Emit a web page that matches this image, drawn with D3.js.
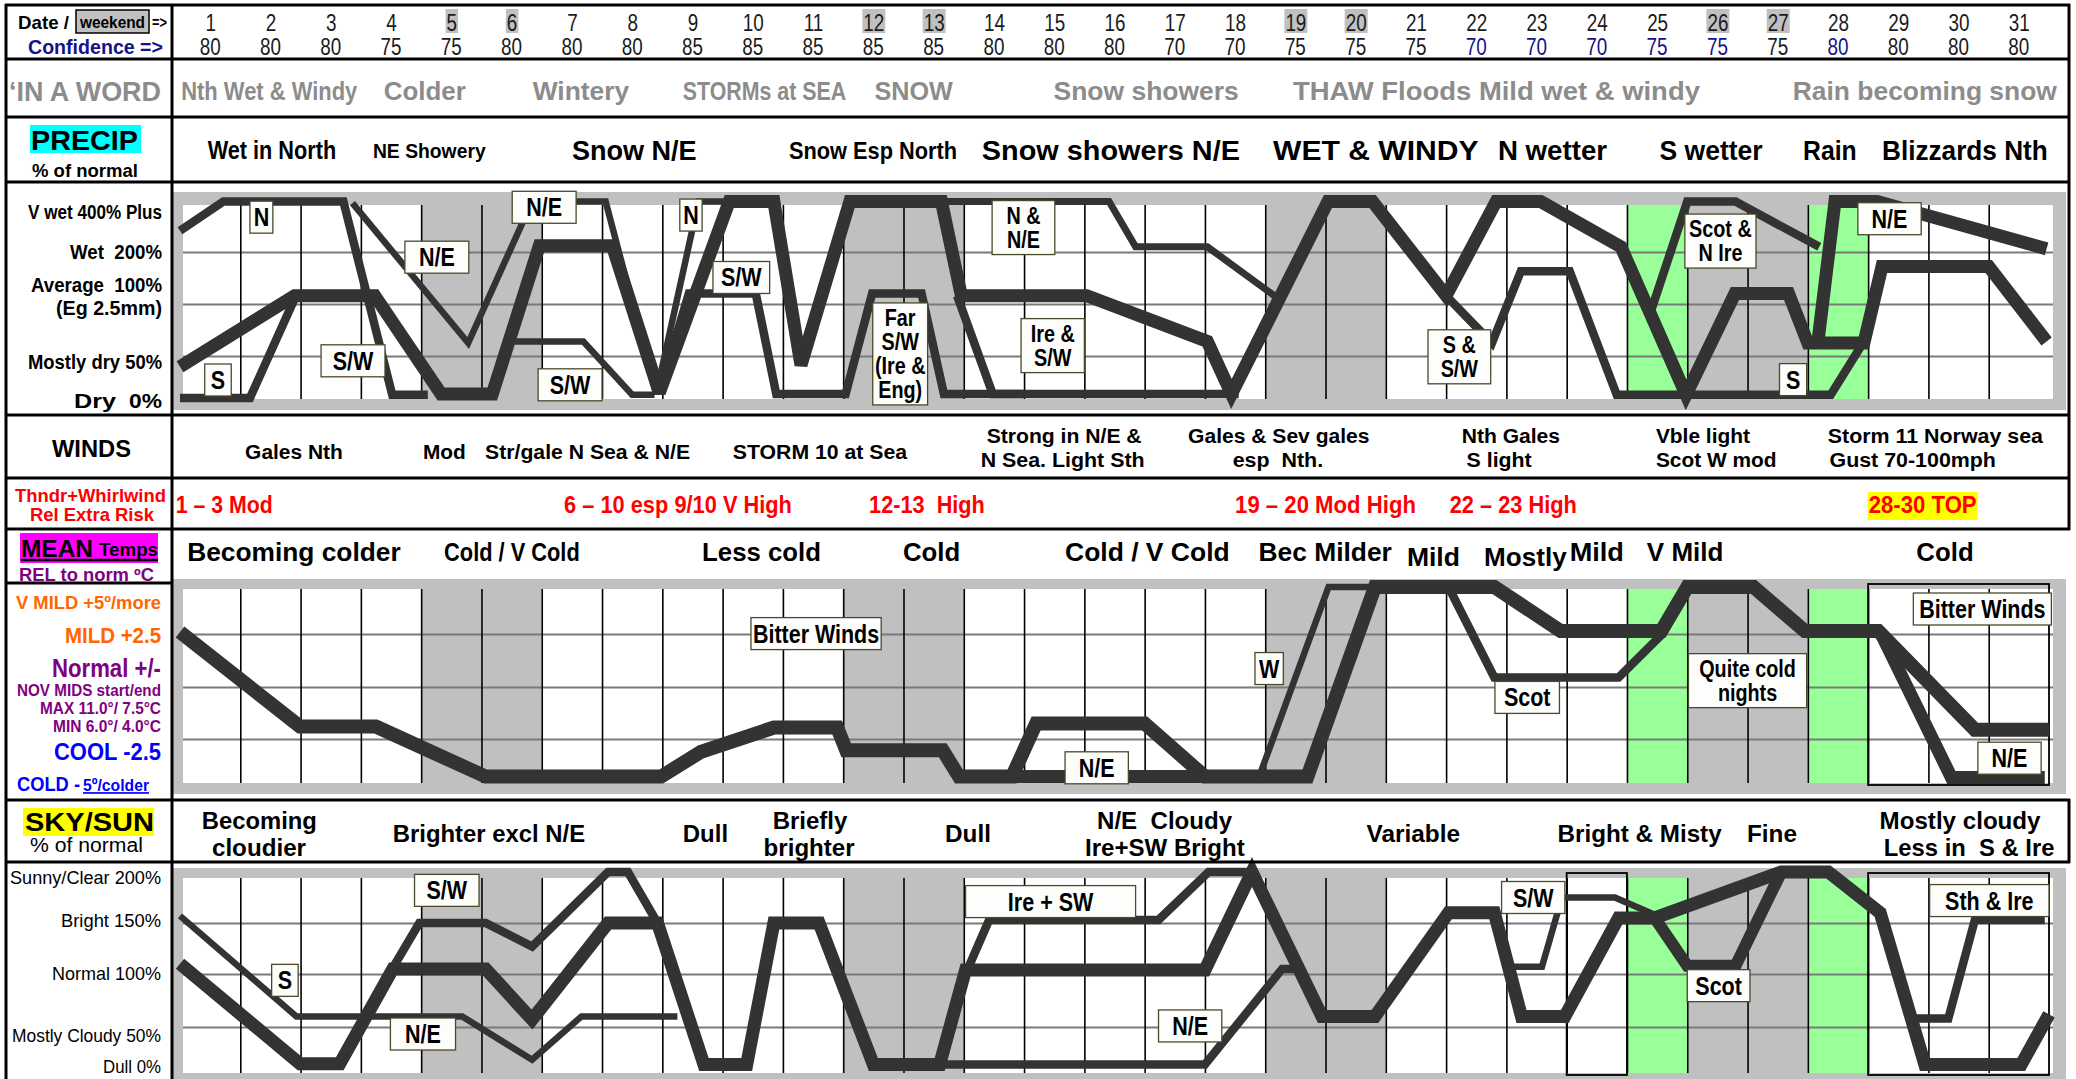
<!DOCTYPE html>
<html>
<head>
<meta charset="utf-8">
<title>Monthly forecast chart</title>
<script src="https://cdn.jsdelivr.net/npm/d3@7/dist/d3.min.js"></script>
<style>
html,body{margin:0;padding:0;background:#fff;overflow:hidden;}
svg text{white-space:pre;}
</style>
</head>
<body>
<svg id="chart" width="2076" height="1079"></svg>
<script>
// ===================== DATA =====================
const days = d3.range(1, 32);
const confidence = [80,80,80,75,75,80,80,80,85,85,85,85,85,80,80,80,70,70,75,75,75,70,70,70,75,75,75,80,80,80,80];
const blueConfidenceDays = [22,23,24,25,26,28];
const weekendDays = [5,6,12,13,19,20,26,27];
const greenDays = [25,28];

// phrase rows: [text, fromDay, toDay]  (day units: 0 = start of the 1st, 31 = end of the 31st)
const wordPhrases = [
  ["Nth Wet & Windy", 0.02, 2.94],
  ["Colder", 3.38, 4.74],
  ["Wintery", 5.85, 7.45],
  ["STORMs at SEA", 8.34, 11.05],
  ["SNOW", 11.52, 12.82],
  ["Snow showers", 14.49, 17.56],
  ["THAW Floods Mild wet & windy", 18.46, 25.21],
  ["Rain becoming snow", 26.75, 31.13]
];
const precipPhrases = [
  ["Wet in North", 0.46, 2.59],
  ["NE Showery", 3.2, 5.07],
  ["Snow N/E", 6.5, 8.57],
  ["Snow Esp North", 10.1, 12.89],
  ["Snow showers N/E", 13.3, 17.58],
  ["WET & WINDY", 18.13, 21.54],
  ["N wetter", 21.86, 23.67],
  ["S wetter", 24.54, 26.25],
  ["Rain", 26.92, 27.81],
  ["Blizzards Nth", 28.23, 30.98]
];
// [text, fromDay, toDay, line]  line 0 = single line, 1/2 = upper/lower line
const windPhrases = [
  ["Gales Nth", 1.08, 2.7, 0],
  ["Mod", 4.03, 4.74, 0],
  ["Str/gale N Sea & N/E", 5.06, 8.46, 0],
  ["STORM 10 at Sea", 9.17, 12.06, 0],
  ["Strong in N/E &", 13.38, 15.95, 1],
  ["N Sea. Light Sth", 13.28, 16.0, 2],
  ["Gales & Sev gales", 16.72, 19.73, 1],
  ["esp  Nth.", 17.46, 18.96, 2],
  ["Nth Gales", 21.26, 22.89, 1],
  ["S light", 21.34, 22.42, 2],
  ["Vble light", 24.48, 26.04, 1],
  ["Scot W mod", 24.48, 26.48, 2],
  ["Storm 11 Norway sea", 27.33, 30.9, 1],
  ["Gust 70-100mph", 27.36, 30.12, 2]
];
const thunderPhrases = [
  ["1 \u2013 3 Mod", -0.07, 1.54],
  ["6 \u2013 10 esp 9/10 V High", 6.37, 10.15],
  ["12-13  High", 11.43, 13.35],
  ["19 \u2013 20 Mod High", 17.5, 20.5],
  ["22 \u2013 23 High", 21.06, 23.17],
  ["28-30 TOP", 28.01, 29.8]
];
const thunderTopRisk = ["28-30 TOP"];
const meanPhrases = [
  ["Becoming colder", 0.12, 3.66, 0],
  ["Cold / V Cold", 4.38, 6.63, 0],
  ["Less cold", 8.66, 10.63, 0],
  ["Cold", 11.99, 12.94, 0],
  ["Cold / V Cold", 14.68, 17.41, 0],
  ["Bec Milder", 17.89, 20.1, 0],
  ["Mild", 20.35, 21.23, 1],
  ["Mostly", 21.63, 23.0, 1],
  ["Mild", 23.05, 23.95, 0],
  ["V Mild", 24.33, 25.6, 0],
  ["Cold", 28.8, 29.75, 0]
];
const skyPhrases = [
  ["Becoming", 0.36, 2.27, 1],
  ["cloudier", 0.53, 2.09, 2],
  ["Brighter excl N/E", 3.53, 6.72, 0],
  ["Dull", 8.34, 9.09, 0],
  ["Briefly", 9.83, 11.07, 1],
  ["brighter", 9.68, 11.19, 2],
  ["Dull", 12.69, 13.45, 0],
  ["N/E  Cloudy", 15.21, 17.45, 1],
  ["Ire+SW Bright", 15.01, 17.66, 2],
  ["Variable", 19.68, 21.23, 0],
  ["Bright & Misty", 22.85, 25.57, 0],
  ["Fine", 25.99, 26.82, 0],
  ["Mostly cloudy", 28.19, 30.86, 1],
  ["Less in  S & Ire", 28.26, 31.09, 2]
];

// PRECIP series: [day, level]  level 0 dry, 1 mostly dry 50%, 2 average 100%, 3 wet 200%, 4 v wet 400%+
const precipMain = [[0,0.73],[1.9,2.16],[3.23,2.16],[4.33,0.05],[5.18,0.05],[5.96,3.12],[7.17,3.12],[7.95,0.08],[9.11,3.97],[9.85,3.97],[10.3,0.77],[11.11,3.97],[12.63,3.97],[12.96,2.16],[15.04,2.16],[17.04,1.28],[17.44,0.05],[19.04,3.97],[19.78,3.97],[21.0,2.16],[21.83,3.97],[22.57,3.97],[23.9,3.1],[24.98,0.03],[25.79,2.2],[26.68,2.2],[27.0,1.25],[27.93,1.25],[28.23,2.72],[30.0,2.72],[30.96,1.28]];
const precipNorth = [[0,3.41],[0.72,3.97],[2.71,3.97],[3.52,0.03],[4.11,0.03]];
const precipNE = [[2.86,3.94],[4.78,1.25],[5.73,3.69],[5.9,3.97],[7.06,3.97],[7.9,0.05],[8.6,3.97],[9.1,3.97]];
const precipSW1 = [[5.51,1.28],[6.69,1.28],[7.5,0.03],[7.87,0.03]];
const precipSouth = [[0,-0.05],[1.16,-0.05],[1.94,2.2]];
const precipSW2 = [[7.95,0.08],[8.44,2.2],[9.55,2.2],[9.89,0.05],[11.04,0.05],[11.48,2.2],[12.3,2.2],[12.67,0.05],[17.56,0.05]];
const precipIreSW = [[12.89,2.16],[13.48,0.05],[14.0,0.05]];
const precipNNE = [[12.63,3.97],[15.41,3.97],[15.85,3.1],[17.04,3.1],[18.15,2.16]];
const precipBlizzard = [[27.16,1.2],[27.45,3.97],[28.15,3.97],[30.96,3.06]];
const precipSSW = [[21.0,2.16],[21.76,1.25],[22.24,2.63],[23.05,2.63],[23.83,0.03],[27.38,0.03],[27.93,1.28]];
const precipScotNIre = [[24.38,1.8],[25.0,3.97],[25.8,3.97],[27.19,3.1]];
// labels: [lines, fromDay, toDay, level]
const precipLabels = [
  [["N"], 1.16, 1.54, 3.67],
  [["S"], 0.41, 0.85, 0.4],
  [["S/W"], 2.34, 3.4, 0.88],
  [["N/E"], 3.73, 4.79, 2.9],
  [["N/E"], 5.51, 6.57, 3.86],
  [["S/W"], 5.94, 7.0, 0.28],
  [["N"], 8.29, 8.66, 3.71],
  [["S/W"], 8.84, 9.78, 2.51],
  [["Far","S/W","(Ire &","Eng)"], 11.49, 12.4, 1.04],
  [["N &","N/E"], 13.47, 14.51, 3.47],
  [["Ire &","S/W"], 13.95, 15.0, 1.2],
  [["S &","S/W"], 20.7, 21.74, 0.98],
  [["Scot &","N Ire"], 24.96, 26.14, 3.21],
  [["S"], 26.53, 26.98, 0.41],
  [["N/E"], 27.83, 28.88, 3.64]
];

// TEMP series: [day, anomaly °C]
const tempMain = [[0,2.6],[1.99,-1.9],[3.25,-1.9],[5.07,-4.85],[7.98,-4.85],[8.64,-3.3],[9.85,-1.95],[10.9,-1.95],[11.05,-3.2],[12.65,-3.2],[12.92,-4.85],[13.8,-4.85],[14.2,-1.75],[16.0,-1.75],[17.0,-4.85],[18.7,-4.85],[19.82,4.85],[21.8,4.85],[22.9,2.65],[24.57,2.65],[25.0,4.85],[26.1,4.85],[26.95,2.65],[28.17,2.65],[29.77,-2.05],[31,-2.05]];
const tempNE = [[13.8,-4.85],[18.7,-4.85]];
const tempWest = [[17.9,-4.85],[19.05,4.85],[19.85,4.85]];
const tempScot = [[21.04,4.85],[21.8,0.45],[23.86,0.45],[24.57,2.45]];
const tempNEcold = [[28.2,2.6],[29.38,-4.9],[30.93,-4.9]];
const tempLabels = [
  [["Bitter Winds"], 9.47, 11.63, 2.52],
  [["W"], 17.83, 18.3, 0.87],
  [["N/E"], 14.68, 15.73, -4.3],
  [["Scot"], 21.81, 22.88, -0.5],
  [["Quite cold","nights"], 25.02, 26.98, 0.3],
  [["Bitter Winds"], 28.75, 31.04, 3.75],
  [["N/E"], 29.82, 30.87, -3.7]
];

// SKY series: [day, % of normal sunshine]
const skyMain = [[0,110],[1.99,3],[2.65,3],[3.53,105],[5.07,105],[5.84,57],[7.1,150],[7.92,150],[8.69,2],[9.4,2],[9.85,150],[10.6,150],[11.5,2],[12.6,2],[13.03,104],[17.0,104],[17.78,200],[18.94,60],[19.82,60],[21.04,160],[21.8,160],[22.25,60],[22.97,60],[23.86,155],[24.46,155],[26.56,200],[27.34,200],[28.2,160],[28.94,2],[30.54,2],[31,62]];
const skySouth = [[0,157],[1.93,60],[4.68,60],[5.84,8],[6.66,60],[8.25,60]];
const skySW = [[3.47,100],[3.97,150],[5.07,150],[5.84,127],[7.1,200],[7.43,200],[7.92,150]];
const skyIreSW = [[13.03,100],[13.42,153],[16.23,153],[17.06,200],[17.78,200]];
const skyNE = [[12.6,2],[17.0,2],[18.28,105],[18.5,105]];
const skySW2 = [[22.03,107],[22.59,107],[22.92,175],[23.8,175],[24.46,158]];
const skyScot = [[24.46,155],[25.0,108],[25.8,108],[26.56,200]];
const skySthIre = [[28.7,58],[29.33,58],[29.77,153],[30.93,153]];
const skyLabels = [
  [["S/W"], 3.89, 4.96, 182],
  [["S"], 1.52, 1.96, 94],
  [["N/E"], 3.49, 4.57, 41],
  [["Ire + SW"], 13.03, 15.85, 171],
  [["N/E"], 16.23, 17.28, 51],
  [["S/W"], 21.92, 22.97, 175],
  [["Scot"], 25.0, 26.04, 89],
  [["Sth & Ire"], 29.02, 31.0, 172]
];
const tempOutlined = [[28,31]];
const skyOutlined = [[23,24],[28,31]];

// ===================== DRAWING =====================
const W = 2076, H = 1079;
const FONT = '"Liberation Sans Narrow","Arial Narrow","Liberation Sans",Arial,sans-serif';
const NARROW = 0.82;
const svg = d3.select('#chart');
svg.append('rect').attr('width', W).attr('height', H).attr('fill', '#fff');

const x = d3.scaleLinear().domain([0, 31]).range([180, 2049]);
const PLOT_L = 183, PLOT_R = 2053, FRAME_L = 172, FRAME_R = 2066;
const THICK = 13, MED = 8.5, THIN = 6.5;

function fit(g, str, x1, x2, yc, size, o = {}) {
  return g.append('text')
    .attr('x', x1).attr('y', yc + size * 0.36)
    .attr('font-family', FONT).attr('font-size', size)
    .attr('font-weight', o.weight || 'bold')
    .attr('fill', o.fill || '#000')
    .attr('textLength', Math.max(1, x2 - x1))
    .attr('lengthAdjust', 'spacingAndGlyphs')
    .attr('text-decoration', o.underline ? 'underline' : null)
    .text(str);
}
// condense a centred text horizontally (narrow look) without transforms
function condense(sel, factor, maxW) {
  sel.each(function () {
    const n = this.getComputedTextLength();
    let w = n * factor;
    if (maxW && w > maxW) w = maxW;
    d3.select(this).attr('textLength', w).attr('lengthAdjust', 'spacingAndGlyphs');
  });
}

const charts = [
  { frame: [192, 410], inner: [205, 399],
    y: d3.scaleLinear().domain([0,1,2,3,4]).range([396,356,304,252,200]), grid: [1,2,3],
    outlines: [],
    series: [
      {d: precipMain, w: THICK}, {d: precipNorth, w: MED}, {d: precipNE, w: THIN},
      {d: precipSW1, w: THIN}, {d: precipSouth, w: MED}, {d: precipSW2, w: MED},
      {d: precipIreSW, w: MED}, {d: precipNNE, w: THIN+0.5}, {d: precipBlizzard, w: THICK},
      {d: precipSSW, w: MED}, {d: precipScotNIre, w: MED}
    ], labels: precipLabels },
  { frame: [579, 794], inner: [589, 783],
    y: d3.scaleLinear().domain([-5,-2.5,0,2.5,5]).range([779,739,687,634,584]), grid: [-2.5,0,2.5],
    outlines: tempOutlined,
    series: [
      {d: tempMain, w: THICK+1}, {d: tempNE, w: THICK}, {d: tempWest, w: THIN},
      {d: tempScot, w: MED}, {d: tempNEcold, w: THICK}
    ], labels: tempLabels },
  { frame: [868, 1079], inner: [878, 1073],
    y: d3.scaleLinear().domain([0,50,100,150,200]).range([1066,1027,974,923,872]), grid: [50,100,150],
    outlines: skyOutlined,
    series: [
      {d: skyMain, w: THICK}, {d: skySouth, w: THIN}, {d: skySW, w: MED}, {d: skyIreSW, w: MED},
      {d: skyNE, w: MED}, {d: skySW2, w: THIN}, {d: skyScot, w: THICK-1}, {d: skySthIre, w: MED}
    ], labels: skyLabels }
];

charts.forEach(c => {
  const g = svg.append('g');
  const ih = c.inner[1] - c.inner[0];
  g.append('rect').attr('x', FRAME_L).attr('y', c.frame[0]).attr('width', FRAME_R - FRAME_L)
    .attr('height', c.frame[1] - c.frame[0]).attr('fill', '#c0c0c0');
  g.append('rect').attr('x', PLOT_L).attr('y', c.inner[0]).attr('width', PLOT_R - PLOT_L)
    .attr('height', ih).attr('fill', '#fff');
  g.selectAll('rect.we').data(weekendDays).join('rect').attr('class', 'we')
    .attr('x', d => x(d - 1)).attr('y', c.inner[0]).attr('width', d => x(d) - x(d - 1))
    .attr('height', ih).attr('fill', '#c0c0c0');
  g.selectAll('rect.gr').data(greenDays).join('rect').attr('class', 'gr')
    .attr('x', d => x(d - 1)).attr('y', c.inner[0]).attr('width', d => x(d) - x(d - 1))
    .attr('height', ih).attr('fill', '#99ff99');
  // horizontal grid (axis)
  const hg = g.append('g').attr('transform', `translate(${PLOT_L},0)`)
    .call(d3.axisLeft(c.y).tickValues(c.grid).tickSize(-(PLOT_R - PLOT_L)).tickFormat(''));
  hg.select('.domain').remove();
  hg.selectAll('line').attr('stroke', '#7a7a7a').attr('stroke-width', 2);
  // vertical grid (axis)
  const vg = g.append('g').attr('transform', `translate(0,${c.inner[1]})`)
    .call(d3.axisBottom(x).tickValues(d3.range(1, 31)).tickSize(-ih).tickFormat(''));
  vg.select('.domain').remove();
  vg.selectAll('line').attr('stroke', '#000').attr('stroke-width', 1.6);
  // outlined columns
  c.outlines.forEach(([a, b]) => {
    g.append('rect').attr('x', x(a)).attr('y', c.inner[0] - 5).attr('width', x(b) - x(a))
      .attr('height', ih + 7).attr('fill', 'none').attr('stroke', '#000').attr('stroke-width', 1.8);
  });
  // series
  const line = d3.line().x(d => x(d[0])).y(d => c.y(d[1]));
  c.series.forEach(s => {
    g.append('path').attr('d', line(s.d)).attr('fill', 'none').attr('stroke', '#333')
      .attr('stroke-width', s.w).attr('stroke-linejoin', 'miter').attr('stroke-miterlimit', 2.5)
      .attr('stroke-linecap', 'butt');
  });
  // labels
  c.labels.forEach(([lines, d1, d2, lv]) => {
    const n = lines.length;
    const fs = n > 1 ? 23 : 25;
    const lh = n > 1 ? 24 : 26;
    const h = n * lh + 6;
    const cy = c.y(lv);
    const x1 = x(d1), x2 = x(d2), cx = (x1 + x2) / 2;
    g.append('rect').attr('x', x1).attr('y', cy - h / 2).attr('width', x2 - x1).attr('height', h)
      .attr('fill', '#fdfdfb').attr('stroke', '#4a4a2a').attr('stroke-width', 1.3);
    lines.forEach((t, i) => {
      const ty = cy - h / 2 + 3 + lh * i + lh / 2 + fs * 0.36;
      const tx = g.append('text').attr('x', cx).attr('y', ty)
        .attr('text-anchor', 'middle').attr('font-family', FONT).attr('font-size', fs)
        .attr('font-weight', 'bold').attr('fill', '#000').text(t);
      condense(tx, 0.86, x2 - x1 - 4);
    });
  });
});

// ---- header rows: day numbers (axis) and confidence
const dayAxis = d3.axisTop(x).tickValues(days.map(d => d - 0.5)).tickSize(0).tickPadding(0)
  .tickFormat(v => String(Math.round(v + 0.5)));
const dayG = svg.append('g').attr('transform', 'translate(0,31)').call(dayAxis);
dayG.select('.domain').remove();
dayG.selectAll('text').attr('font-family', FONT).attr('font-size', 23).attr('fill', '#1b1b1b');
condense(dayG.selectAll('text'), NARROW);
dayG.selectAll('.tick').each(function (v) {
  const d = Math.round(v + 0.5);
  if (weekendDays.includes(d)) {
    const t = d3.select(this).select('text').node();
    const w = +t.getAttribute('textLength');
    d3.select(this).insert('rect', 'text').attr('x', -w / 2 - 1).attr('y', -22)
      .attr('width', w + 2).attr('height', 24).attr('fill', '#c0c0c0');
  }
});
const confG = svg.append('g');
confG.selectAll('text').data(confidence).join('text')
  .attr('x', (v, i) => x(i + 0.5)).attr('y', 55)
  .attr('text-anchor', 'middle')
  .attr('font-family', FONT).attr('font-size', 23)
  .attr('fill', (v, i) => blueConfidenceDays.includes(i + 1) ? '#14148a' : '#1b1b1b')
  .text(v => v);
condense(confG.selectAll('text'), NARROW);

// ---- phrase rows
const P = svg.append('g');
wordPhrases.forEach(([t, a, b]) => fit(P, t, x(a), x(b), 91, 26, {fill: '#8c8c8c'}));
const precipPhraseSize = [25, 21, 28, 24, 27, 27, 27, 27, 27, 27];
precipPhrases.forEach(([t, a, b], i) => fit(P, t, x(a), x(b), 150, precipPhraseSize[i]));
const windY = [452, 436, 460];
windPhrases.forEach(([t, a, b, r]) => fit(P, t, x(a), x(b), windY[r], 20));
thunderPhrases.forEach(([t, a, b]) => {
  if (thunderTopRisk.includes(t)) {
    P.append('rect').attr('x', x(a) - 1).attr('y', 492).attr('width', x(b) - x(a) + 2)
      .attr('height', 28).attr('fill', '#ffff00');
  }
  fit(P, t, x(a), x(b), 505, 23, {fill: '#ff0000'});
});
const meanY = [552, 557];
meanPhrases.forEach(([t, a, b, r]) => fit(P, t, x(a), x(b), meanY[r], 26));
const skyY = [833, 820, 847];
skyPhrases.forEach(([t, a, b, r]) => fit(P, t, x(a), x(b), skyY[r], 24));

// ---- left label column
const L = svg.append('g');
L.append('rect').attr('x', 76).attr('y', 10).attr('width', 73).attr('height', 23)
  .attr('fill', '#c0c0c0').attr('stroke', '#000').attr('stroke-width', 1.5);
fit(L, 'Date /', 18, 69, 22, 19);
fit(L, 'weekend', 80, 145, 22, 16.5);
fit(L, '=>', 152, 167, 22, 16);
fit(L, 'Confidence =>', 28, 163, 46.5, 20, {fill: '#14148a'});
fit(L, '\u2018IN A WORD', 9, 161, 91, 28, {fill: '#8c8c8c'});
L.append('rect').attr('x', 30).attr('y', 125).attr('width', 111).attr('height', 28).attr('fill', '#00ffff');
fit(L, 'PRECIP', 31, 138, 139.5, 28);
fit(L, '% of normal', 32, 138, 170, 19);
fit(L, 'V wet 400% Plus', 28, 162, 211.7, 20);
fit(L, 'Wet  200%', 70, 162, 251.7, 20);
fit(L, 'Average  100%', 31, 162, 285, 20);
fit(L, '(Eg 2.5mm)', 56, 162, 308, 20);
fit(L, 'Mostly dry 50%', 28, 162, 361.7, 20);
fit(L, 'Dry', 74, 116, 401, 20);
fit(L, '0%', 129, 162, 401, 20);
fit(L, 'WINDS', 52, 131, 448, 24);
fit(L, 'Thndr+Whirlwind', 15, 166, 495, 19, {fill: '#ff0000'});
fit(L, 'Rel Extra Risk', 30, 154, 514, 19, {fill: '#ff0000'});
L.append('rect').attr('x', 20).attr('y', 533).attr('width', 138).attr('height', 30).attr('fill', '#ff00ff');
fit(L, 'MEAN', 21, 93, 548, 24);
fit(L, 'Temps', 99, 158, 549, 19);
L.append('line').attr('x1', 21).attr('x2', 158).attr('y1', 560).attr('y2', 560).attr('stroke', '#000').attr('stroke-width', 2.5);
fit(L, 'REL to norm \u00baC', 19, 154, 575, 18, {fill: '#800080'});
fit(L, 'V MILD +5\u00ba/more', 16, 161, 601.7, 19, {fill: '#ff6600'});
fit(L, 'MILD +2.5', 65, 161, 635, 22, {fill: '#ff6600'});
fit(L, 'Normal +/-', 52, 161, 668, 25, {fill: '#800080'});
fit(L, 'NOV MIDS start/end', 17, 161, 690, 17, {fill: '#800080'});
fit(L, 'MAX 11.0\u00b0/ 7.5\u00b0C', 40, 161, 708, 17, {fill: '#800080'});
fit(L, 'MIN 6.0\u00b0/ 4.0\u00b0C', 53, 161, 726, 17, {fill: '#800080'});
fit(L, 'COOL -2.5', 54, 161, 752, 23, {fill: '#0000ff'});
fit(L, 'COLD -', 17, 80, 783, 21, {fill: '#0000ff'});
fit(L, '5\u00ba/colder', 83, 149, 785, 17, {fill: '#0000ff', underline: true});
L.append('rect').attr('x', 23).attr('y', 808).attr('width', 131).attr('height', 28).attr('fill', '#ffff00');
fit(L, 'SKY/SUN', 25, 154, 822, 26);
fit(L, '% of normal', 30, 143, 845, 20, {weight: 'normal'});
fit(L, 'Sunny/Clear 200%', 10, 161, 877, 19, {weight: 'normal'});
fit(L, 'Bright 150%', 61, 161, 920, 19, {weight: 'normal'});
fit(L, 'Normal 100%', 52, 161, 973, 19, {weight: 'normal'});
fit(L, 'Mostly Cloudy 50%', 12, 161, 1035, 19, {weight: 'normal'});
fit(L, 'Dull 0%', 103, 161, 1066, 19, {weight: 'normal'});

// ---- table rules
const R = svg.append('g').attr('stroke', '#000').attr('stroke-width', 3);
[5, 59, 117, 182, 415, 478, 529, 800, 862].forEach(yv =>
  R.append('line').attr('x1', 5).attr('x2', 2070).attr('y1', yv).attr('y2', yv));
R.append('line').attr('x1', 5).attr('x2', 172).attr('y1', 583).attr('y2', 583);
R.append('line').attr('x1', 6).attr('x2', 6).attr('y1', 4).attr('y2', 1079);
R.append('line').attr('x1', 172).attr('x2', 172).attr('y1', 4).attr('y2', 1079);
R.append('line').attr('x1', 2069).attr('x2', 2069).attr('y1', 4).attr('y2', 530);
R.append('line').attr('x1', 2069).attr('x2', 2069).attr('y1', 799).attr('y2', 863);
</script>
</body>
</html>
